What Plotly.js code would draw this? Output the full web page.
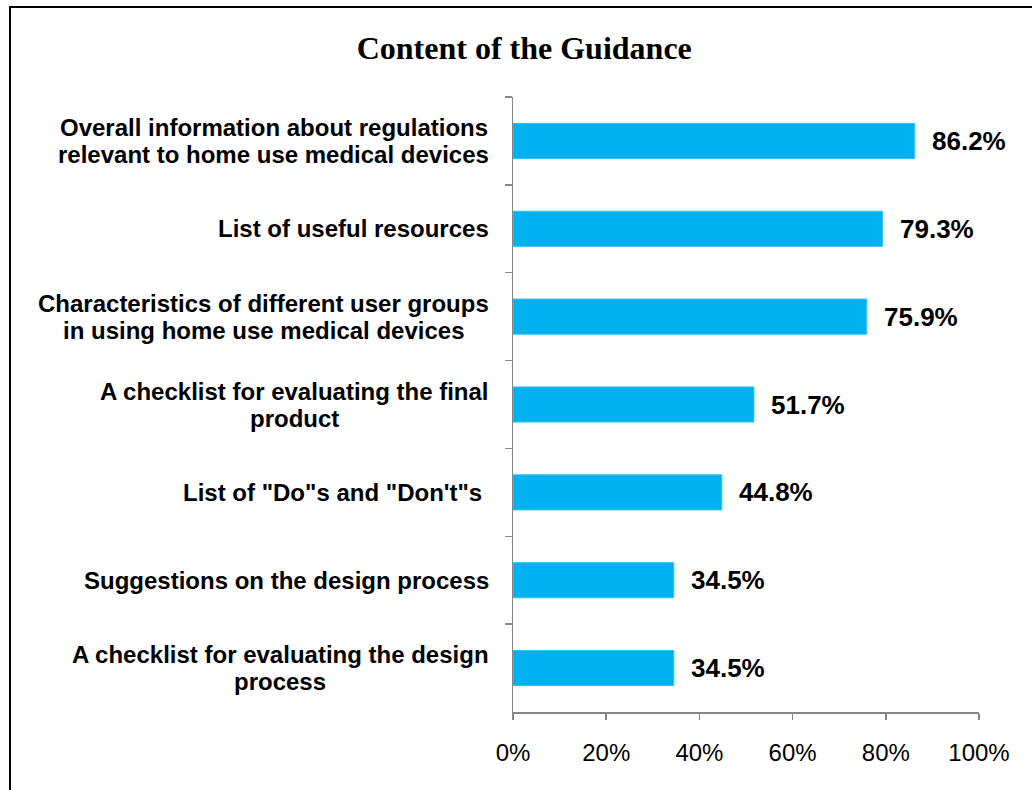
<!DOCTYPE html>
<html>
<head>
<meta charset="utf-8">
<script src="https://cdn.plot.ly/plotly-3.0.1.min.js"></script>
<style>
  html, body { margin: 0; padding: 0; background: #fff; }
  #wrap { position: relative; width: 1032px; height: 790px; overflow: hidden; }
  #chart { position: absolute; left: 0; top: 0; width: 1032px; height: 790px; }
  #frame { position: absolute; left: 9px; top: 6px; width: 1040px; height: 800px;
           border-left: 2px solid #000; border-top: 2px solid #000; pointer-events: none; }
</style>
</head>
<body>
<div id="wrap">
  <div id="chart"></div>
  <div id="frame"></div>
</div>
<script>
const chartTitle = "Content of the Guidance";
// each category split into its displayed lines
const categoryLines = [
  ["Overall information about regulations", "relevant to home use medical devices"],
  ["List of useful resources"],
  ["Characteristics of different user groups", "in using home use medical devices"],
  ["A checklist for evaluating the final", "product"],
  ["List of \"Do\"s and \"Don't\"s "],
  ["Suggestions on the design process"],
  ["A checklist for evaluating the design", "process"]
];
const values = [0.862, 0.793, 0.759, 0.517, 0.448, 0.345, 0.345];
const xTickVals = [0, 0.2, 0.4, 0.6, 0.8, 1.0];
const xTickText = ["0%", "20%", "40%", "60%", "80%", "100%"];

const categories = categoryLines.map(l => l.join(" "));

const labelFamily = "Liberation Sans, Arial, sans-serif";
const labelSize = 24;
const lineGap = 27;

const cv = document.createElement("canvas").getContext("2d");
cv.font = "bold " + labelSize + "px 'Liberation Sans', Arial, sans-serif";

const trace = {
  type: "bar",
  orientation: "h",
  x: values,
  y: categories,
  width: 0.4,
  marker: { color: "#00B0F0", line: { color: "#33C3F5", width: 1 } },
  hoverinfo: "none"
};

const annotations = [];
values.forEach((v, i) => {
  annotations.push({
    x: v, y: categories[i], xref: "x", yref: "y",
    text: "<b>" + (v * 100).toFixed(1) + "%</b>",
    showarrow: false, xanchor: "left", yanchor: "middle", xshift: 15,
    font: { family: labelFamily, size: 26, color: "#000" }
  });
});

categoryLines.forEach((lines, i) => {
  const maxW = Math.max(...lines.map(t => cv.measureText(t).width));
  const n = lines.length;
  lines.forEach((t, k) => {
    annotations.push({
      x: 0, y: categories[i], xref: "paper", yref: "y",
      text: "<b>" + t.replace(/ $/, "&nbsp;") + "</b>",
      showarrow: false, xanchor: "center", yanchor: "middle",
      xshift: -24 - maxW / 2,
      yshift: ((n - 1) / 2 - k) * lineGap,
      font: { family: labelFamily, size: labelSize, color: "#000" }
    });
  });
});

const layout = {
  width: 1032, height: 790,
  paper_bgcolor: "#fff", plot_bgcolor: "#fff",
  margin: { l: 513, r: 53, t: 97, b: 78 },
  showlegend: false,
  title: {
    text: "<b>" + chartTitle + "</b>",
    x: 0.508, xanchor: "center", y: 0.94, yanchor: "middle",
    font: { family: "Liberation Serif, Times New Roman, serif", size: 32, color: "#000" }
  },
  xaxis: {
    range: [0, 1], tickvals: xTickVals, ticktext: xTickText,
    showgrid: false, zeroline: false,
    showline: true, linecolor: "#868686", linewidth: 1.5,
    ticks: "outside", ticklen: 6, tickcolor: "#868686", tickwidth: 1.5,
    ticklabelstandoff: 13,
    tickfont: { family: labelFamily, size: 24, color: "#000" },
    fixedrange: true
  },
  yaxis: {
    type: "category", autorange: "reversed",
    showgrid: false, zeroline: false,
    showline: true, linecolor: "#868686", linewidth: 1.5,
    ticks: "outside", ticklen: 7, tickcolor: "#868686", tickwidth: 1.5,
    tickson: "boundaries",
    showticklabels: false,
    fixedrange: true
  },
  annotations: annotations
};

Plotly.newPlot("chart", [trace], layout, { displayModeBar: false, staticPlot: true });
</script>
</body>
</html>
